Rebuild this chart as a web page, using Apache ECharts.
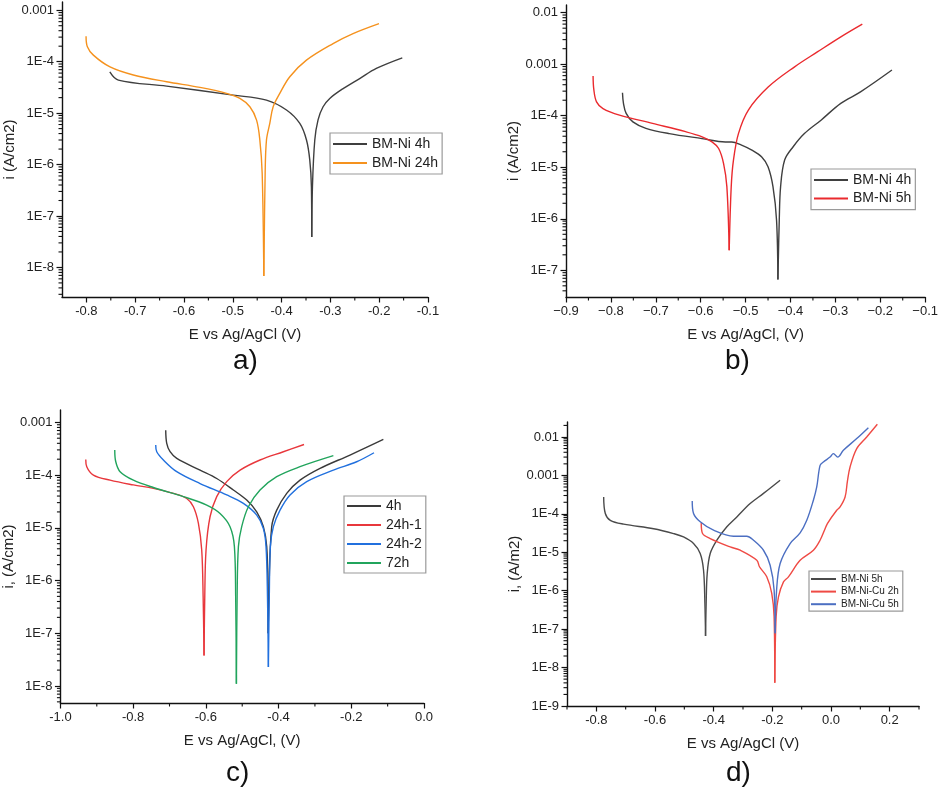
<!DOCTYPE html>
<html lang="en">
<head>
  <meta charset="UTF-8">
  <title>Tafel curves</title>
  <script src="https://cdn.jsdelivr.net/npm/echarts@6/dist/echarts.min.js"></script>
  <style>
    html, body { padding: 0; margin: 0; background: #fff; }
    #chart { width: 941px; height: 791px; }
  </style>
</head>
<body>
<div id="chart"></div>
<script>
  // ---- panel a) : E (V) and i (A/cm2)
  const aE_4h = [-0.752, -0.7345, -0.6356, -0.4992, -0.431, -0.39, -0.3627, -0.349, -0.3423, -0.3389, -0.3382, -0.3368, -0.332, -0.3253, -0.315, -0.3013, -0.274, -0.24, -0.2059, -0.1527]
  const aI_4h = [6.35e-5, 4.39e-5, 3.35e-5, 2.24e-5, 1.79e-5, 1.15e-5, 6.3e-6, 3.0e-6, 1.23e-6, 3.7e-7, 3.9e-8, 3.7e-7, 3.0e-6, 7.4e-6, 1.33e-5, 1.93e-5, 3.0e-5, 4.7e-5, 7.4e-5, 1.19e-4]
  const aE_24h = [-0.8007, -0.798, -0.7857, -0.7516, -0.7038, -0.6356, -0.5673, -0.5128, -0.4855, -0.465, -0.4513, -0.4446, -0.4398, -0.4364, -0.4337, -0.431, -0.4242, -0.4173, -0.4037, -0.3832, -0.3491, -0.2945, -0.2536, -0.2004]
  const aI_24h = [3.13e-4, 1.95e-4, 1.34e-4, 7.9e-5, 5.5e-5, 4.07e-5, 3.16e-5, 2.42e-5, 1.93e-5, 1.33e-5, 7.3e-6, 3.0e-6, 6.8e-7, 6.8e-9, 6.8e-7, 3.0e-6, 6.3e-6, 1.33e-5, 2.42e-5, 5.1e-5, 1.07e-4, 2.25e-4, 3.52e-4, 5.5e-4]

  // ---- panel b)
  const bE_4h = [-0.7742, -0.772, -0.766, -0.751, -0.722, -0.67, -0.597, -0.545, -0.531, -0.509, -0.486, -0.464, -0.45, -0.439, -0.431, -0.428, -0.425, -0.422, -0.413, -0.394, -0.369, -0.332, -0.288, -0.244, -0.174]
  const bI_4h = [2.79e-4, 1.74e-4, 1.11e-4, 7.6e-5, 5.7e-5, 4.5e-5, 3.6e-5, 3.1e-5, 3.1e-5, 2.69e-5, 2.15e-5, 1.58e-5, 1.02e-5, 4.2e-6, 9.3e-7, 6.6e-8, 9.3e-7, 4.2e-6, 1.38e-5, 2.5e-5, 4.5e-5, 8.2e-5, 1.74e-4, 2.9e-4, 7.7e-4]
  const bE_5h = [-0.8397, -0.838, -0.832, -0.8176, -0.7808, -0.7072, -0.6336, -0.5968, -0.5748, -0.56, -0.549, -0.5417, -0.5365, -0.532, -0.527, -0.5159, -0.4938, -0.4497, -0.3908, -0.3393, -0.2878, -0.24]
  const bI_5h = [5.9e-4, 3.2e-4, 1.86e-4, 1.38e-4, 1.03e-4, 7.1e-5, 4.9e-5, 3.9e-5, 3.1e-5, 2.31e-5, 1.18e-5, 4.2e-6, 2.45e-7, 4.2e-6, 1.38e-5, 4.5e-5, 1.29e-4, 3.6e-4, 8.9e-4, 1.75e-3, 3.4e-3, 6.0e-3]

  // ---- panel c)
  const cE_4h = [-0.7104, -0.7076, -0.6984, -0.68, -0.6159, -0.5701, -0.5243, -0.4876, -0.4601, -0.4418, -0.4326, -0.429, -0.4285, -0.4265, -0.4189, -0.4051, -0.3776, -0.341, -0.286, -0.2035, -0.1118]
  const cI_4h = [7.1e-4, 4.0e-4, 2.77e-4, 2.07e-4, 1.24e-4, 8.6e-5, 5.2e-5, 3.35e-5, 2.01e-5, 1.05e-5, 4.4e-6, 6.3e-7, 1.0e-7, 6.3e-7, 1.05e-5, 2.16e-5, 4.5e-5, 8.0e-5, 1.34e-4, 2.4e-4, 4.75e-4]
  const cE_24h1 = [-0.9303, -0.9276, -0.9093, -0.8634, -0.7993, -0.7443, -0.6893, -0.6526, -0.6343, -0.6205, -0.6114, -0.6075, -0.605, -0.603, -0.5995, -0.5885, -0.5701, -0.5426, -0.5059, -0.451, -0.3868, -0.33]
  const cI_24h1 = [1.98e-4, 1.44e-4, 1.0e-4, 8.0e-5, 6.5e-5, 5.6e-5, 4.5e-5, 3.6e-5, 2.5e-5, 1.21e-5, 3.8e-6, 5.0e-7, 3.8e-8, 5.0e-7, 3.8e-6, 1.62e-5, 3.9e-5, 7.5e-5, 1.24e-4, 1.93e-4, 2.77e-4, 3.8e-4]
  const cE_24h2 = [-0.7379, -0.7351, -0.7168, -0.6801, -0.6159, -0.5426, -0.4968, -0.4601, -0.4418, -0.4345, -0.4305, -0.428, -0.4255, -0.4225, -0.4143, -0.396, -0.3685, -0.3226, -0.2493, -0.1852, -0.1375]
  const cI_24h2 = [3.7e-4, 2.77e-4, 1.93e-4, 1.16e-4, 6.9e-5, 4.2e-5, 2.9e-5, 1.74e-5, 9.7e-6, 4.4e-6, 5.0e-7, 2.3e-8, 5.0e-7, 4.4e-6, 1.05e-5, 2.16e-5, 4.2e-5, 7.5e-5, 1.24e-4, 1.79e-4, 2.65e-4]
  const cE_72h = [-0.8506, -0.8478, -0.8359, -0.7993, -0.7443, -0.6618, -0.5976, -0.561, -0.5335, -0.5215, -0.518, -0.516, -0.514, -0.5105, -0.5014, -0.4831, -0.451, -0.4051, -0.341, -0.2493]
  const cI_72h = [3.0e-4, 1.79e-4, 1.16e-4, 8.0e-5, 5.8e-5, 3.9e-5, 2.7e-5, 1.87e-5, 1.05e-5, 4.4e-6, 5.0e-7, 1.1e-8, 5.0e-7, 4.4e-6, 1.05e-5, 2.5e-5, 5.2e-5, 9.3e-5, 1.44e-4, 2.33e-4]

  // ---- panel d) : i in A/m2
  const dE_Ni5h = [-0.775, -0.7694, -0.7523, -0.7069, -0.6048, -0.5367, -0.5027, -0.4686, -0.4459, -0.4345, -0.43, -0.4277, -0.4255, -0.422, -0.4118, -0.3891, -0.355, -0.321, -0.2756, -0.2302, -0.1734]
  const dI_Ni5h = [2.75e-4, 1.02e-4, 6.8e-5, 5.4e-5, 4.1e-5, 3.07e-5, 2.5e-5, 1.69e-5, 9.3e-6, 3.4e-6, 5.0e-7, 6.6e-8, 5.0e-7, 2.8e-6, 9.3e-6, 2.06e-5, 4.6e-5, 8.3e-5, 1.85e-4, 3.4e-4, 7.5e-4]
  const dE_Cu2h = [-0.4424, -0.4379, -0.4118, -0.3437, -0.3096, -0.2529, -0.2438, -0.219, -0.202, -0.194, -0.1916, -0.1871, -0.1791, -0.162, -0.145, -0.1053, -0.06, -0.0372, -0.0202, -0.0123, 0.0195, 0.0309, 0.048, 0.056, 0.065, 0.0877, 0.1217, 0.158]
  const dI_Cu2h = [5.8e-5, 3.07e-5, 2.28e-5, 1.38e-5, 1.13e-5, 6.2e-6, 4.2e-6, 2.3e-6, 8.5e-7, 2.1e-7, 4.0e-9, 2.1e-7, 6.9e-7, 1.7e-6, 2.3e-6, 6.2e-6, 1.13e-5, 2.06e-5, 4.1e-5, 5.6e-5, 1.24e-4, 1.51e-4, 2.75e-4, 7.1e-4, 1.66e-3, 5.0e-3, 1.0e-2, 2.14e-2]
  const dE_Cu5h = [-0.4731, -0.4686, -0.4459, -0.4004, -0.3323, -0.287, -0.2643, -0.2302, -0.2075, -0.1939, -0.1905, -0.1855, -0.1734, -0.1394, -0.1053, -0.0826, -0.06, -0.0486, -0.0372, -0.0259, -0.0032, 0.0082, 0.0229, 0.0422, 0.0877, 0.1274]
  const dI_Cu5h = [2.17e-4, 1.02e-4, 6.2e-5, 3.75e-5, 2.62e-5, 2.62e-5, 2.06e-5, 1.13e-5, 4.6e-6, 1.03e-6, 7.8e-8, 1.03e-6, 5.1e-6, 1.69e-5, 3.2e-5, 6.8e-5, 2.26e-4, 5.0e-4, 1.83e-3, 2.24e-3, 3.0e-3, 3.7e-3, 3.0e-3, 4.5e-3, 9.1e-3, 1.75e-2]

  // tick labels
  const aXTicks = [-0.8, -0.7, -0.6, -0.5, -0.4, -0.3, -0.2, -0.1]
  const aXMinor = [-0.75, -0.65, -0.55, -0.45, -0.35, -0.25, -0.15]
  const bXTicks = [-0.9, -0.8, -0.7, -0.6, -0.5, -0.4, -0.3, -0.2, -0.1]
  const bXMinor = [-0.85, -0.75, -0.65, -0.55, -0.45, -0.35, -0.25, -0.15]
  const cXTicks = [-1.0, -0.8, -0.6, -0.4, -0.2, 0.0]
  const cXMinor = [-0.9, -0.7, -0.5, -0.3, -0.1]
  const dXTicks = [-0.8, -0.6, -0.4, -0.2, 0.0, 0.2]
  const dXMinor = [-0.9, -0.7, -0.5, -0.3, -0.1, 0.1, 0.3]
  const aYTicks = [-8, -7, -6, -5, -4, -3]
  const bYTicks = [-7, -6, -5, -4, -3, -2]
  const cYTicks = [-8, -7, -6, -5, -4, -3]
  const dYTicks = [-9, -8, -7, -6, -5, -4, -3, -2]

  const FONT = '"Liberation Sans", Arial, sans-serif'
  const yFmt = v => (v === -3 ? '0.001' : v === -2 ? '0.01' : '1E' + v)

  // split a polarisation curve at its corrosion point so that each branch is smoothed on its own
  function branches(E, I) {
    let m = 0
    I.forEach((v, k) => { if (v < I[m]) m = k })
    const pts = E.map((e, k) => [e, Math.log10(I[k])])
    return [pts.slice(0, m + 1), pts.slice(m)]
  }

  function minorLog(lo, hi) {
    const out = []
    for (let n = Math.floor(lo); n <= Math.ceil(hi); n++) {
      for (let k = 2; k <= 9; k++) {
        const v = n + Math.log10(k)
        if (v > lo && v < hi) out.push(v)
      }
    }
    return out
  }

  // short minor tick marks drawn through the axis scale (dx, dy = direction of the mark)
  function minorTicks(pi, data, dx, dy) {
    return {
      type: 'custom', xAxisIndex: pi, yAxisIndex: pi, clip: false, silent: true, z: 3,
      data,
      renderItem: (params, api) => {
        const pt = api.coord([api.value(0), api.value(1)])
        return {
          type: 'line',
          shape: { x1: pt[0], y1: pt[1], x2: pt[0] + dx, y2: pt[1] + dy },
          style: { stroke: '#111', lineWidth: 1.1 }
        }
      }
    }
  }

  const panels = [
    {
      grid: { left: 62, top: 2, width: 366, height: 295 },
      x: [-0.85, -0.1], xTicks: aXTicks, xMinor: aXMinor, minus: '-',
      y: [-8.575, -2.84], yTicks: aYTicks,
      xName: 'E vs Ag/AgCl (V)', yName: 'i (A/cm2)',
      curves: [['BM-Ni 4h', aE_4h, aI_4h, '#3f3f3f'], ['BM-Ni 24h', aE_24h, aI_24h, '#f5921e']],
      legend: { left: 330, top: 133, fontSize: 14, itemWidth: 34, itemGap: 5, padding: [4, 4, 4, 3] },
      tag: 'a)', tagPos: [245, 364]
    },
    {
      grid: { left: 566, top: 5, width: 362, height: 292 },
      x: [-0.9, -0.1], xTicks: bXTicks, xMinor: bXMinor, minus: '\u2212',
      y: [-7.518, -1.851], yTicks: bYTicks,
      xName: 'E vs Ag/AgCl, (V)', yName: 'i (A/cm2)',
      curves: [['BM-Ni 4h', bE_4h, bI_4h, '#3f3f3f'], ['BM-Ni 5h', bE_5h, bI_5h, '#ea2a2e']],
      legend: { left: 811, top: 169, fontSize: 14, itemWidth: 34, itemGap: 4.6, padding: [4, 4, 4, 3] },
      tag: 'b)', tagPos: [737, 364]
    },
    {
      grid: { left: 60, top: 410, width: 364, height: 293 },
      x: [-1.0, 0.0], xTicks: cXTicks, xMinor: cXMinor, minus: '-',
      y: [-8.323, -2.766], yTicks: cYTicks,
      xName: 'E vs Ag/AgCl, (V)', yName: 'i, (A/cm2)',
      curves: [['4h', cE_4h, cI_4h, '#3a3a3a'], ['24h-1', cE_24h1, cI_24h1, '#e8373c'],
               ['24h-2', cE_24h2, cI_24h2, '#2170de'], ['72h', cE_72h, cI_72h, '#21a45c']],
      legend: { left: 344, top: 496, fontSize: 14, itemWidth: 34, itemGap: 5, padding: [3, 4, 3, 3] },
      tag: 'c)', tagPos: [238, 776]
    },
    {
      grid: { left: 567, top: 422, width: 352, height: 284 },
      x: [-0.9, 0.3], xTicks: dXTicks, xMinor: dXMinor, minus: '-',
      y: [-9, -1.61], yTicks: dYTicks,
      xName: 'E vs Ag/AgCl (V)', yName: 'i, (A/m2)',
      curves: [['BM-Ni 5h', dE_Ni5h, dI_Ni5h, '#4a4a4a'], ['BM-Ni-Cu 2h', dE_Cu2h, dI_Cu2h, '#ef4a44'],
               ['BM-Ni-Cu 5h', dE_Cu5h, dI_Cu5h, '#4c6fc2']],
      legend: { left: 809, top: 571, fontSize: 10, itemWidth: 25, itemGap: 2.6, padding: [3, 4, 2, 2] },
      tag: 'd)', tagPos: [738, 776]
    }
  ]

  const option = {
    animation: false,
    grid: [], xAxis: [], yAxis: [], series: [], legend: [], graphic: []
  }

  panels.forEach((p, pi) => {
    option.grid.push(Object.assign({ containLabel: false }, p.grid))
    const xFmt = v => (v.toFixed(1)).replace('-', p.minus)
    option.xAxis.push({
      type: 'value', gridIndex: pi, position: 'bottom', min: p.x[0], max: p.x[1],
      name: p.xName, nameLocation: 'middle', nameGap: 30,
      nameTextStyle: { fontFamily: FONT, fontSize: 15, color: '#222' },
      axisLine: { show: true, onZero: false, lineStyle: { color: '#111', width: 1.4 } },
      axisTick: { show: true, length: 5.5, customValues: p.xTicks, lineStyle: { color: '#111', width: 1.2 } },
      axisLabel: { customValues: p.xTicks, formatter: xFmt, fontFamily: FONT, fontSize: 13, color: '#222', margin: 8 },
      splitLine: { show: false }
    })
    option.yAxis.push({
      type: 'value', gridIndex: pi, position: 'left', min: p.y[0], max: p.y[1],
      name: p.yName, nameLocation: 'middle', nameGap: 44,
      nameTextStyle: { fontFamily: FONT, fontSize: 15, color: '#222' },
      axisLine: { show: true, onZero: false, lineStyle: { color: '#111', width: 1.4 } },
      axisTick: { show: true, length: 5.5, customValues: p.yTicks, lineStyle: { color: '#111', width: 1.2 } },
      axisLabel: { customValues: p.yTicks, formatter: yFmt, fontFamily: FONT, fontSize: 13, color: '#222', margin: 8 },
      splitLine: { show: false }
    })
    // minor ticks: log-spaced on y, half steps on x
    option.series.push(minorTicks(pi, minorLog(p.y[0], p.y[1]).map(v => [p.x[0], v]), -3.5, 0))
    option.series.push(minorTicks(pi, p.xMinor.map(v => [v, p.y[0]]), 0, 3.5))
    p.curves.forEach(([name, E, I, color]) => {
      branches(E, I).forEach(part => {
        option.series.push({
          name, type: 'line', xAxisIndex: pi, yAxisIndex: pi,
          data: part, symbol: 'none', smooth: 0.35,
          lineStyle: { color, width: 1.4 }, itemStyle: { color }, silent: true
        })
      })
    })
    const L = p.legend
    option.legend.push({
      orient: 'vertical', left: L.left, top: L.top, padding: L.padding,
      itemWidth: L.itemWidth, itemHeight: 2, itemGap: L.itemGap,
      icon: 'rect',
      borderColor: '#9a9a9a', borderWidth: 1.2, borderRadius: 0,
      selectedMode: false,
      textStyle: { fontFamily: FONT, fontSize: L.fontSize, lineHeight: L.fontSize, color: '#222' },
      data: p.curves.map(([name, , , color]) => ({ name, itemStyle: { color } }))
    })
    option.graphic.push({
      type: 'text', left: p.tagPos[0] - 12, top: p.tagPos[1] - 17,
      style: { text: p.tag, fontFamily: FONT, fontSize: 28, fill: '#111' }
    })
  })

  const chart = echarts.init(document.getElementById('chart'))
  chart.setOption(option)
</script>
</body>
</html>
